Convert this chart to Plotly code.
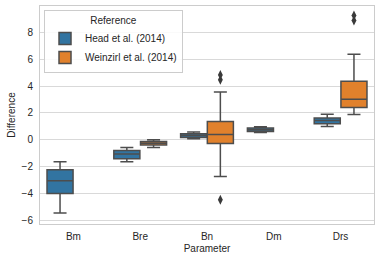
import plotly.graph_objects as go

categories = ["Bm", "Bre", "Bn", "Dm", "Drs"]
hue_offset = {"Head et al. (2014)": -0.2, "Weinzirl et al. (2014)": 0.2}

# Head et al. (2014)
head_x = ["Bm", "Bre", "Bn", "Dm", "Drs"]
head_lf = [-5.46, -1.64, 0.08, 0.55, 0.99]
head_q1 = [-4.00, -1.41, 0.18, 0.62, 1.19]
head_med = [-3.05, -1.06, 0.32, 0.75, 1.44]
head_q3 = [-2.23, -0.80, 0.45, 0.88, 1.62]
head_uf = [-1.64, -0.57, 0.58, 0.98, 1.91]
head_out_x = []
head_out_y = []

# Weinzirl et al. (2014)
wein_x = ["Bre", "Bn", "Drs"]
wein_lf = [-0.57, -2.73, 1.88]
wein_q1 = [-0.39, -0.28, 2.41]
wein_med = [-0.25, 0.39, 3.03]
wein_q3 = [-0.13, 1.36, 4.37]
wein_uf = [0.00, 3.57, 6.38]
wein_out_x = ["Bn", "Bn", "Bn", "Drs", "Drs"]
wein_out_y = [-4.47, 4.47, 4.84, 8.9, 9.27]

font_family = "Liberation Sans, Arial, sans-serif"
text_color = "#262626"
edge = "#4d4d4d"

fig = go.Figure()


def pos(cats, name):
    return [categories.index(c) + hue_offset[name] for c in cats]


def add_box(name, xs, lf, q1, med, q3, uf, ox, oy, color):
    fig.add_trace(go.Box(
        name=name,
        legendgroup=name,
        x=pos(xs, name),
        lowerfence=lf, q1=q1, median=med, q3=q3, upperfence=uf,
        width=0.39,
        fillcolor=color,
        line=dict(color=edge, width=1.5),
        whiskerwidth=0.5,
        boxpoints=False,
        hoverinfo="skip",
    ))
    if ox:
        fig.add_trace(go.Scatter(
            x=pos(ox, name), y=oy, mode="markers",
            legendgroup=name, showlegend=False,
            marker=dict(symbol="diamond-tall", size=7, color="#3a3a3a",
                        line=dict(width=0)),
            hoverinfo="skip",
        ))


add_box("Head et al. (2014)", head_x, head_lf, head_q1, head_med, head_q3,
        head_uf, head_out_x, head_out_y, "#3274A1")
add_box("Weinzirl et al. (2014)", wein_x, wein_lf, wein_q1, wein_med, wein_q3,
        wein_uf, wein_out_x, wein_out_y, "#E1812C")

fig.update_layout(
    width=380, height=260,
    margin=dict(l=40, r=6, t=6, b=36, autoexpand=False),
    paper_bgcolor="white", plot_bgcolor="white",
    boxmode="overlay",
    font=dict(family=font_family, size=10, color=text_color),
    showlegend=True,
    legend=dict(
        x=0.012, y=0.982, xanchor="left", yanchor="top",
        bgcolor="rgba(255,255,255,0.85)",
        bordercolor="#cccccc", borderwidth=1,
        font=dict(size=10, color=text_color),
        title=dict(text="Reference", side="top center",
                   font=dict(size=10, color=text_color)),
        tracegroupgap=0,
    ),
    xaxis=dict(
        range=[-0.5, 4.5],
        tickvals=list(range(len(categories))),
        ticktext=categories,
        showgrid=False, zeroline=False,
        showline=True, mirror=True, linecolor="#cccccc", linewidth=1,
        ticks="outside", ticklen=3, tickcolor="rgba(0,0,0,0)",
        tickfont=dict(size=10, color=text_color),
        title=dict(text="Parameter", font=dict(size=10, color=text_color),
                   standoff=3),
        automargin=False,
    ),
    yaxis=dict(
        range=[-6.28, 9.98],
        tickvals=[-6, -4, -2, 0, 2, 4, 6, 8],
        showgrid=True, gridcolor="#d9d9d9", gridwidth=1,
        zeroline=False,
        showline=True, mirror=True, linecolor="#cccccc", linewidth=1,
        ticks="outside", ticklen=4, tickcolor="rgba(0,0,0,0)",
        tickfont=dict(size=10, color=text_color),
        title=dict(text="Difference", font=dict(size=10, color=text_color),
                   standoff=4),
        automargin=False,
    ),
)

fig.write_html(
    "out.html",
    config={"displayModeBar": False},
    post_script="document.body.style.margin='0';document.body.style.padding='0';",
)
